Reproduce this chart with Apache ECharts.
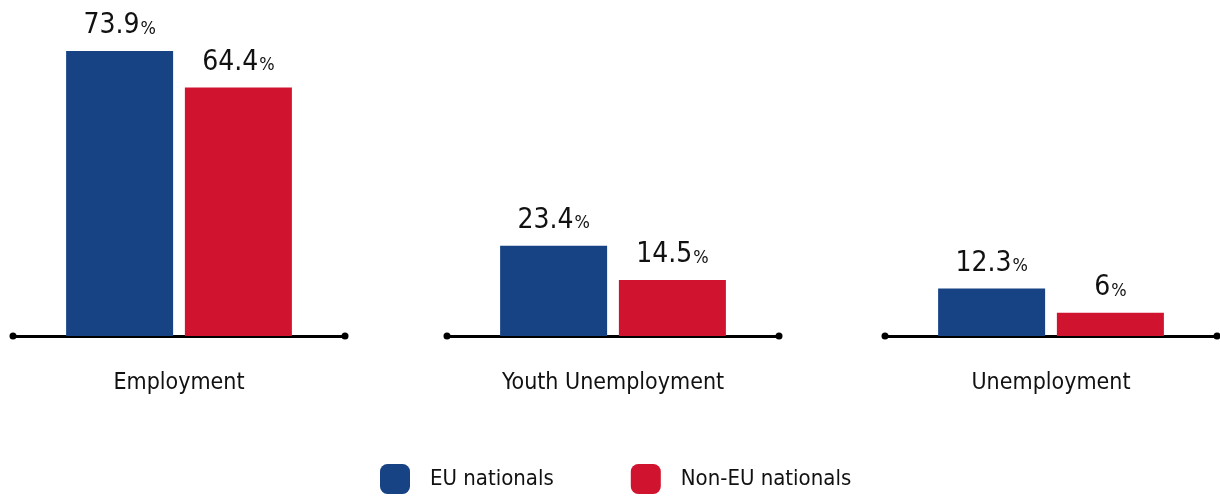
<!DOCTYPE html>
<html>
<head>
<meta charset="utf-8">
<script src="https://cdn.jsdelivr.net/npm/echarts@6/dist/echarts.min.js"></script>
<style>html,body{margin:0;padding:0;background:#fff}#c{width:1220px;height:496px}</style>
</head>
<body>
<div id="c"></div>
<script>
const categories = ['Employment', 'Youth Unemployment', 'Unemployment'];
const seriesNames = ['EU nationals', 'Non-EU nationals'];
const euValues = [73.9, 23.4, 12.3];
const nonEuValues = [64.4, 14.5, 6];

const FONT = '"Liberation Sans Narrow", "DejaVu Sans Condensed", sans-serif';
const COLORS = ['#174384', '#D0142F'];
const gridLefts = [13, 447, 885];

const grids = [], xAxes = [], yAxes = [], series = [];
categories.forEach((cat, i) => {
  grids.push({ left: gridLefts[i], width: 332, top: 27.4, bottom: 160 });
  xAxes.push({
    type: 'category', gridIndex: i, data: [cat],
    axisTick: { show: false },
    axisLine: { lineStyle: { color: '#000', width: 3 }, symbol: ['circle', 'circle'], symbolSize: [7, 7] },
    axisLabel: { fontFamily: FONT, fontSize: 23, color: '#111', margin: 36 }
  });
  yAxes.push({ type: 'value', gridIndex: i, min: 0, max: 80, show: false, splitLine: { show: false } });
  [euValues, nonEuValues].forEach((vals, s) => {
    series.push({
      type: 'bar', name: seriesNames[s], xAxisIndex: i, yAxisIndex: i,
      data: [vals[i]], barWidth: 107, barGap: '11%',
      itemStyle: { color: COLORS[s] },
      label: {
        show: true, position: 'top', distance: 11,
        formatter: p => '{a|' + p.value + '}{b|%}',
        rich: {
          a: { fontFamily: FONT, fontSize: 28, color: '#111' },
          b: { fontFamily: FONT, fontSize: 18, color: '#111', padding: [6, 0, 0, 1] }
        }
      }
    });
  });
});

const chart = echarts.init(document.getElementById('c'));
chart.setOption({
  animation: false,
  color: COLORS,
  grid: grids, xAxis: xAxes, yAxis: yAxes, series: series,
  legend: {
    data: seriesNames, top: 459, left: 375,
    itemWidth: 30, itemHeight: 30, icon: 'roundRect', itemGap: 77,
    textStyle: { fontFamily: FONT, fontSize: 22, color: '#111', padding: [0, 0, 0, 15] }
  }
});
</script>
</body>
</html>
